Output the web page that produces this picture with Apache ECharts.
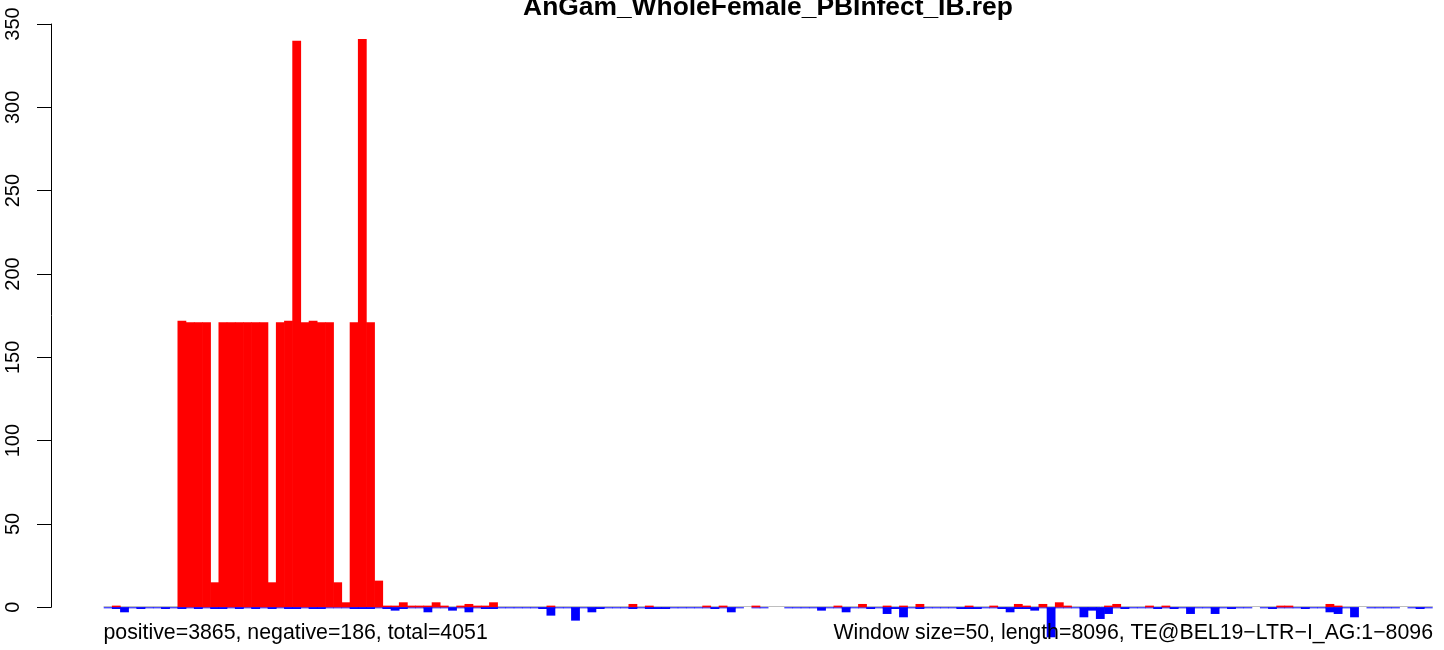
<!DOCTYPE html>
<html><head><meta charset="utf-8">
<script src="https://cdn.jsdelivr.net/npm/echarts@6/dist/echarts.min.js"></script>
<style>html,body{margin:0;padding:0;background:#fff}#c{width:1444px;height:650px}</style>
</head><body><div id="c"></div>
<script>
const chartTitle = "AnGam_WholeFemale_PBInfect_IB.rep";
const windowSize = 50;
const seqLength = 8096;
const leftNote = "positive=3865, negative=186, total=4051";
const rightNote = "Window size=50, length=8096, TE@BEL19\u2212LTR\u2212I_AG:1\u22128096";
const yTicks = [0, 50, 100, 150, 200, 250, 300, 350];

// reads on the + strand per window (red, upward)
const positive = [
  0,1,0,0,0,0,0,0,0,172,
  171,171,171,15,171,171,171,171,171,171,
  15,171,172,340,171,172,171,171,15,3,
  171,341,171,16,1,1,3,1,1,1,
  3,1,0,1,2,1,1,3,0,0,
  0,0,0,0,1,0,0,0,0,0,
  0,0,0,0,2,0,1,0,0,0,
  0,0,0,1,0,1,0,0,0,1,
  0,0,0,0,0,0,0,0,0,1,
  0,0,2,0,0,1,0,1,0,2,
  0,0,0,0,0,1,0,0,1,0,
  0,2,1,0,2,0,3,1,0,0,
  0,0,1,2,0,0,0,1,0,1,
  0,0,0,0,0,0,0,0,0,0,
  0,0,0,1,1,0,0,0,0,2,
  1,0,0,0,0,0,0,0,0,0,
  0,0
];
// reads on the - strand per window (blue, downward); null = no value
const negative = [
  0,1,3,0,1,0,0,1,0,1,
  0,1,0,1,1,0,1,0,1,0,
  1,0,1,1,0,1,1,0,0,0,
  1,1,1,0,1,2,1,0,0,3,
  0,0,2,0,3,0,1,1,0,0,
  0,0,0,1,5,0,0,8,0,3,
  1,0,0,0,1,0,1,1,1,0,
  0,0,0,0,1,0,3,0,null,0,
  0,null,null,0,0,0,0,2,0,0,
  3,0,0,1,0,4,1,6,0,1,
  0,0,0,0,1,1,1,0,0,1,
  3,1,1,2,0,18,0,0,0,6,
  2,7,4,0,1,0,0,0,1,0,
  1,0,4,0,0,4,0,1,0,0,
  null,0,1,0,0,0,1,0,0,3,
  4,0,6,null,0,0,0,0,null,0,
  1,0
];
const categories = positive.map((_, i) => String(i * windowSize + 1));

const FONT = "'Liberation Sans', Arial, Helvetica, sans-serif";
const BAR_W = 8.8;
const chart = echarts.init(document.getElementById('c'), null, {renderer: 'canvas'});
chart.setOption({
  animation: false,
  backgroundColor: '#ffffff',
  grid: {left: 104, right: 11.6, top: 24, bottom: 42.7, outerBoundsMode: 'none', containLabel: false},
  xAxis: {
    type: 'category', data: categories, boundaryGap: true,
    axisLine: {show: true, onZero: false, lineStyle: {color: '#BEBEBE', width: 1}},
    offset: -1,
    axisTick: {show: false}, axisLabel: {show: false}, splitLine: {show: false}
  },
  yAxis: {
    type: 'value', min: 0, max: 350, interval: 50, offset: 53,
    axisLine: {show: true, lineStyle: {color: '#000', width: 1}},
    axisTick: {show: true, length: 14, lineStyle: {color: '#000', width: 1}, customValues: yTicks},
    axisLabel: {show: true, rotate: 90, margin: 28, fontSize: 20, color: '#000', fontFamily: FONT, customValues: yTicks},
    splitLine: {show: false}
  },
  series: [
    {
      name: 'minus-line', type: 'bar', clip: false, silent: true,
      barGap: '-100%', barWidth: BAR_W,
      itemStyle: {color: '#0000FF'},
      data: negative.map(v => v === null ? null : -0.6), z: 2
    },
    {
      name: 'positive', type: 'bar', clip: false,
      barGap: '-100%', barWidth: BAR_W,
      itemStyle: {color: '#FF0000'},
      data: positive, z: 3
    },
    {
      name: 'negative', type: 'bar', clip: false,
      barGap: '-100%', barWidth: BAR_W,
      itemStyle: {color: '#0000FF'},
      data: negative.map(v => v ? -v : null), z: 3
    }
  ],
  graphic: [
    {type: 'text', z: 100, x: 768, y: 8.2,
     style: {text: chartTitle, fill: '#000', font: "bold 26.4px " + FONT, textAlign: 'center', textVerticalAlign: 'middle'}},
    {type: 'text', z: 100, x: 103.5, y: 633,
     style: {text: leftNote, fill: '#000', font: "21.3px " + FONT, textAlign: 'left', textVerticalAlign: 'middle'}},
    {type: 'text', z: 100, x: 1433, y: 633,
     style: {text: rightNote, fill: '#000', font: "21.3px " + FONT, textAlign: 'right', textVerticalAlign: 'middle'}}
  ]
});
</script>
</body></html>
